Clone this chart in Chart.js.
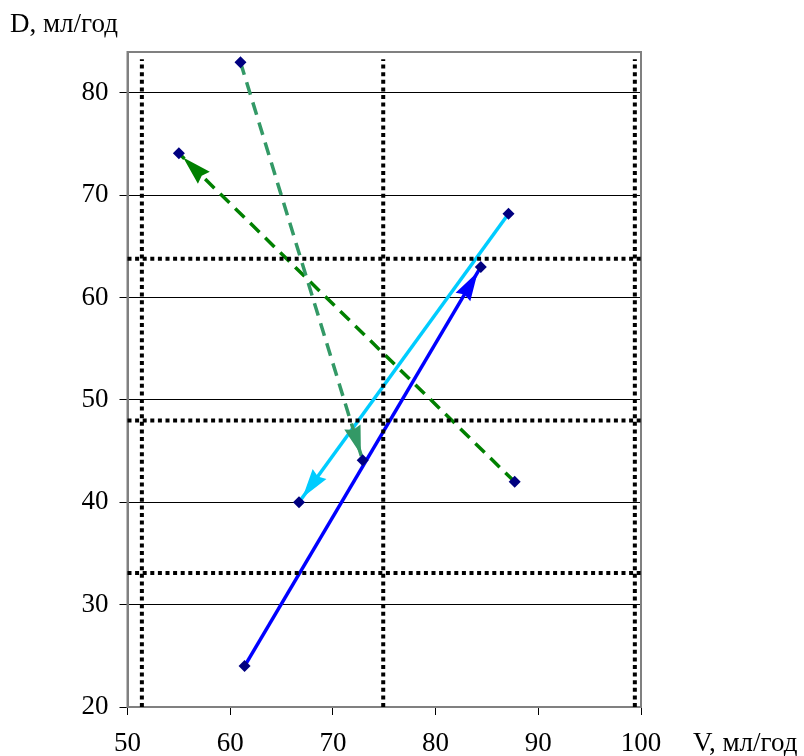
<!DOCTYPE html>
<html>
<head>
<meta charset="utf-8">
<script src="https://cdn.jsdelivr.net/npm/chart.js@4/dist/chart.umd.min.js"></script>
<style>
  html, body { margin: 0; padding: 0; background: #fff; }
  #wrap { width: 804px; height: 756px; }
</style>
</head>
<body>
<div id="wrap"><canvas id="chart"></canvas></div>
<script>
// values
const xTicks = [50, 60, 70, 80, 90, 100];
const yTicks = [20, 30, 40, 50, 60, 70, 80];

const blueV = [61.4, 84.4];
const blueD = [24, 63];
const cyanV = [87.1, 66.7];
const cyanD = [68.2, 40];
const seaV = [61, 72.9];
const seaD = [83, 44.1];
const greenV = [87.7, 55];
const greenD = [42, 74.1];

// dotted reference lines
const vLines = [51.4, 74.9, 99.4];
const hLines = [63.8, 48, 33.1];

const FONT = '"Liberation Serif", "Times New Roman", serif';

function pts(xs, ys) {
  return xs.map((x, i) => ({ x: x, y: ys[i] }));
}

function series(xs, ys, color, dash) {
  return {
    data: pts(xs, ys),
    showLine: true,
    borderColor: color,
    borderWidth: 3.5,
    borderDash: dash,
    arrow: color,
    pointStyle: "rectRot",
    pointRadius: 6,
    pointBackgroundColor: "#000080",
    pointBorderColor: "#000080",
    pointBorderWidth: 0,
  };
}

function dotted(data) {
  return {
    data: data,
    showLine: true,
    borderColor: "#000",
    borderWidth: 4,
    borderDash: [4, 3.6],
    pointRadius: 0,
    clip: false,
  };
}

const datasets = [];
vLines.forEach((v) => datasets.push(dotted([{ x: v, y: 20 }, { x: v, y: 83.3 }])));
hLines.forEach((h) => datasets.push(dotted([{ x: 50, y: h }, { x: 100.25, y: h }])));
datasets.push(series(seaV, seaD, "#339966", [13, 8]));
datasets.push(series(greenV, greenD, "#008000", [13, 8]));
datasets.push(series(cyanV, cyanD, "#00CCFF", []));
datasets.push(series(blueV, blueD, "#0000FF", []));

// arrowheads at the end of each path + frame + axis titles
const extras = {
  id: "extras",
  beforeDatasetsDraw(chart) {
    const { ctx, chartArea: a } = chart;
    ctx.save();
    ctx.strokeStyle = "#808080";
    ctx.lineWidth = 2;
    ctx.strokeRect(a.left, a.top, a.right - a.left, a.bottom - a.top);
    ctx.restore();
  },
  afterDatasetsDraw(chart) {
    const ctx = chart.ctx;
    chart.data.datasets.forEach((ds, i) => {
      if (!ds.arrow) return;
      const meta = chart.getDatasetMeta(i);
      const p0 = meta.data[meta.data.length - 2];
      const p1 = meta.data[meta.data.length - 1];
      const dx = p1.x - p0.x, dy = p1.y - p0.y;
      const len = Math.hypot(dx, dy);
      const ux = dx / len, uy = dy / len;
      const tx = p1.x - ux * 6, ty = p1.y - uy * 6;
      const bx = tx - ux * 29, by = ty - uy * 29;
      ctx.save();
      ctx.fillStyle = ds.arrow;
      ctx.beginPath();
      ctx.moveTo(tx, ty);
      ctx.lineTo(bx - uy * 8.5, by + ux * 8.5);
      ctx.lineTo(bx + ux * 3, by + uy * 3);
      ctx.lineTo(bx + uy * 8.5, by - ux * 8.5);
      ctx.closePath();
      ctx.fill();
      ctx.restore();
    });
    ctx.save();
    ctx.fillStyle = "#000";
    ctx.font = "27px " + FONT;
    ctx.textBaseline = "alphabetic";
    ctx.textAlign = "left";
    ctx.fillText("D, мл/год", 10, 32);
    ctx.fillText("V, мл/год", 693, 751);
    ctx.restore();
  },
};

new Chart(document.getElementById("chart"), {
  type: "scatter",
  data: { datasets: datasets },
  options: {
    responsive: true,
    maintainAspectRatio: false,
    animation: false,
    layout: { padding: { top: 52, right: 163, left: 0, bottom: 0 } },
    plugins: { legend: { display: false }, tooltip: { enabled: false } },
    scales: {
      x: {
        min: 50,
        max: 100,
        afterBuildTicks: (scale) => { scale.ticks = xTicks.map((v) => ({ value: v })); },
        afterFit: (scale) => { scale.height = 49; },
        grid: { drawOnChartArea: false, tickLength: 8, color: "#000" },
        border: { color: "#808080", width: 2 },
        ticks: { color: "#000", padding: 13, maxRotation: 0, font: { family: FONT, size: 27 } },
      },
      y: {
        min: 20,
        max: 84,
        afterBuildTicks: (scale) => { scale.ticks = yTicks.map((v) => ({ value: v })); },
        afterFit: (scale) => { scale.width = 127.5; },
        grid: { tickLength: 8, color: "#000", lineWidth: 1 },
        border: { color: "#808080", width: 2 },
        ticks: { color: "#000", padding: 11, font: { family: FONT, size: 27 } },
      },
    },
  },
  plugins: [extras],
});
</script>
</body>
</html>
